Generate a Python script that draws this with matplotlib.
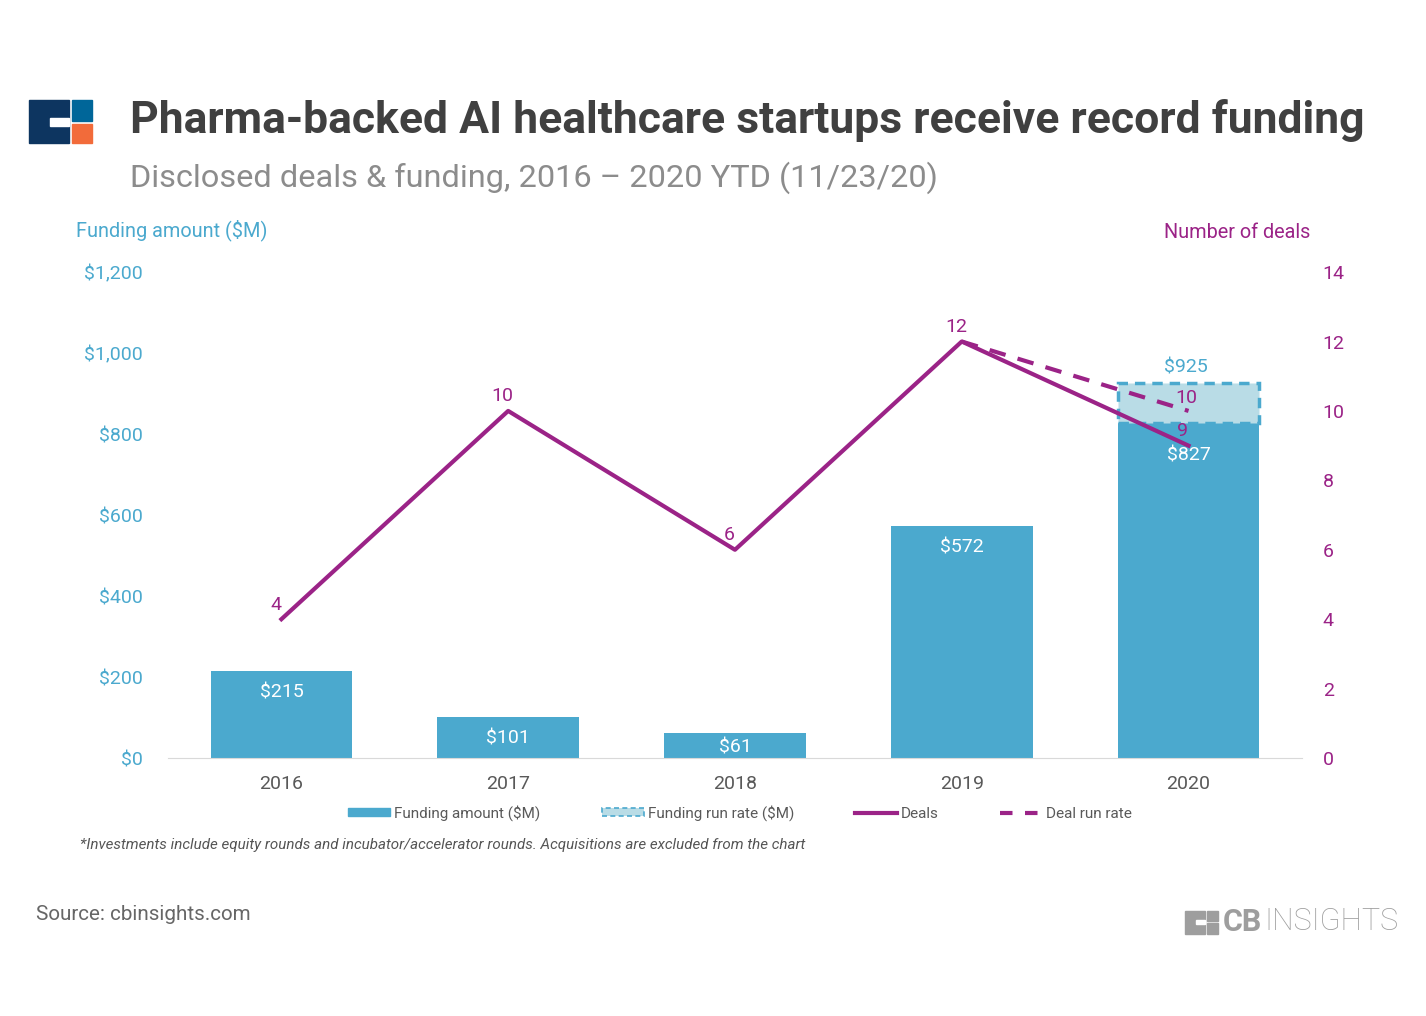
import matplotlib
matplotlib.use("Agg")
import matplotlib.pyplot as plt
from matplotlib.patches import Rectangle, Patch
from matplotlib.lines import Line2D

plt.rcParams['font.family'] = ['Roboto', 'DejaVu Sans']

# data
years = ["2016", "2017", "2018", "2019", "2020"]
funding = [215, 101, 61, 572, 827]
deals = [4, 10, 6, 12, 9]
funding_run_rate = 925
deal_run_rate = 10
left_ticks = [0, 200, 400, 600, 800, 1000, 1200]
right_ticks = [0, 2, 4, 6, 8, 10, 12, 14]

BLUE = "#4BA9CE"
LIGHT = "#B9DCE6"
PURPLE = "#9B2387"
GREY = "#595959"

fig = plt.figure(figsize=(14.26, 10.16), dpi=100)
ax = fig.add_axes([0.1178, 0.2539, 0.7952, 0.4783])
ax2 = ax.twinx()

x = list(range(len(years)))
ax.bar(x, funding, width=0.625, color=BLUE, zorder=2)
# run-rate extension on the last bar
ax.bar(x[-1], funding_run_rate - funding[-1], bottom=funding[-1], width=0.625,
       color=LIGHT, edgecolor=BLUE, linestyle=(0, (3, 2)), linewidth=2.5, zorder=2)

ax.set_xlim(-0.5, 4.5)
ax.set_ylim(0, 1200)
ax.set_yticks(left_ticks)
ax.set_yticklabels(["$" + format(v, ",") for v in left_ticks])
ax.set_xticks(x)
ax.set_xticklabels(years)
ax.tick_params(axis="y", colors=BLUE, labelsize=14, length=0, pad=18)
ax.tick_params(axis="x", colors=GREY, labelsize=14, length=0, pad=12)
for s in ["top", "right", "left"]:
    ax.spines[s].set_visible(False)
ax.spines["bottom"].set_color("#D9D9D9")

for i, v in enumerate(funding):
    off = 81 if i == len(funding) - 1 else 52
    ax.text(x[i], max(v - off, 27), "$" + str(v), color="white", ha="center", va="center",
            fontsize=14, zorder=4)
ax.text(x[-1] - 0.01, funding_run_rate + 40, "$" + str(funding_run_rate), color=BLUE,
        ha="center", va="center", fontsize=14)

ax2.set_ylim(0, 14)
ax2.set_yticks(right_ticks)
ax2.tick_params(axis="y", colors=PURPLE, labelsize=14, length=0, pad=15)
for s in ["top", "right", "left", "bottom"]:
    ax2.spines[s].set_visible(False)

ax2.plot([x[-2], x[-1]], [deals[-2], deal_run_rate], color=PURPLE, lw=3,
         linestyle=(0, (4, 3)), zorder=3)
ax2.plot(x, deals, color=PURPLE, lw=3, zorder=3)
for xi, d in zip(x, deals):
    ax2.text(xi - 0.025, d + 0.42, str(d), color=PURPLE, ha="center", va="center", fontsize=14)
ax2.text(x[-1] - 0.01, deal_run_rate + 0.38, str(deal_run_rate), color=PURPLE,
         ha="center", va="center", fontsize=14)

# axis titles
fig.text(76 / 1426, 1 - 230 / 1016, "Funding amount ($M)", color=BLUE, fontsize=14.3, va="center")
fig.text(1310 / 1426, 1 - 233 / 1016, "Number of deals", color=PURPLE, fontsize=14.3,
         va="center", ha="right")

# title block
fig.text(130 / 1426, 1 - 120 / 1016, "Pharma-backed AI healthcare startups receive record funding",
         fontsize=32, fontweight="bold", color="#404040", va="center")
fig.text(130 / 1426, 1 - 178 / 1016, "Disclosed deals & funding, 2016 \u2013 2020 YTD (11/23/20)",
         fontsize=23.4, color="#8C8C8C", va="center")

def px(x0, y0, w, h, c):
    fig.patches.append(Rectangle((x0 / 1426, 1 - (y0 + h) / 1016), w / 1426, h / 1016,
                                 transform=fig.transFigure, color=c, zorder=5))

# logo top left
px(29, 100, 40, 43, "#0D3560")
px(50, 118, 19, 8, "white")
px(72, 100, 20, 21, "#006699")
px(72, 124, 20, 19, "#F26B3A")

# legend
handles = [
    Patch(facecolor=BLUE, edgecolor=BLUE),
    Patch(facecolor=LIGHT, edgecolor=BLUE, linestyle=(0, (3, 2)), linewidth=1.2),
    Line2D([0], [0], color=PURPLE, lw=3),
    Line2D([0], [0], color=PURPLE, lw=3, linestyle=(0, (3, 3))),
]
labels = ["Funding amount ($M)", "Funding run rate ($M)", "Deals", "Deal run rate"]
leg = fig.legend(handles, labels, loc="center", bbox_to_anchor=(740 / 1426, 1 - 813 / 1016),
                 ncol=4, frameon=False, fontsize=11, handlelength=2.75, handleheight=0.5,
                 handletextpad=0.26, columnspacing=4.0)
for t in leg.get_texts():
    t.set_color(GREY)

fig.text(80 / 1426, 1 - 845 / 1016,
         "*Investments include equity rounds and incubator/accelerator rounds. "
         "Acquisitions are excluded from the chart",
         fontsize=10.9, style="italic", color="#555555", va="center")
fig.text(36 / 1426, 1 - 914 / 1016, "Source: cbinsights.com", fontsize=14.9, color="#666666",
         va="center")

# CB Insights wordmark
px(1185, 911, 20, 23, "#9E9E9E")
px(1196, 920, 9, 4, "white")
px(1207, 911, 11, 10, "#9E9E9E")
px(1207, 923, 11, 11, "#9E9E9E")
fig.text(1223 / 1426, 1 - 922 / 1016, "CB", fontsize=22, fontweight="bold", color="#9E9E9E",
         va="center")
fig.text(1264 / 1426, 1 - 922 / 1016, "INSIGHTS", fontsize=22, fontweight="light",
         color="#9E9E9E", va="center")

fig.savefig("out.png", dpi=100)
